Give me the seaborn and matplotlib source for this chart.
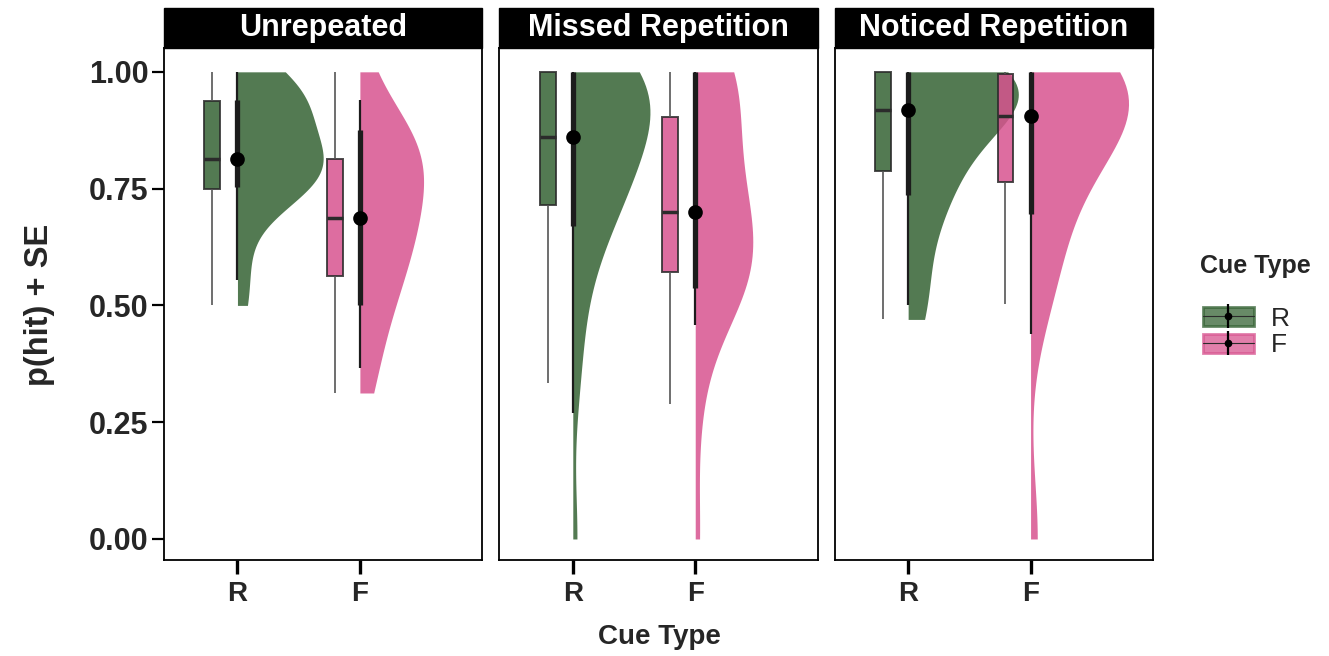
import numpy as np
import pandas as pd
import matplotlib.pyplot as plt
import matplotlib.transforms as mtransforms
from matplotlib.patches import Patch, Rectangle
from matplotlib.lines import Line2D
import seaborn as sns

# categories
conditions = ["Unrepeated", "Missed Repetition", "Noticed Repetition"]
cue_types = ["R", "F"]

# per-participant p(hit) (estimated from the plot)
unrepeated_R = [0.50, 0.59, 0.6875, 0.75, 0.75, 0.75, 0.75, 0.75, 0.8125, 0.8125, 0.8125, 0.8125, 0.8125,
                0.8125, 0.875, 0.875, 0.875, 0.9375, 0.9375, 0.9375, 0.9375, 0.9375, 1.0, 1.0, 1.0]
unrepeated_F = [0.3125, 0.375, 0.4375, 0.5, 0.5, 0.5625, 0.5625, 0.625, 0.625, 0.625, 0.6875, 0.6875, 0.6875,
                0.75, 0.75, 0.75, 0.8125, 0.8125, 0.8125, 0.8125, 0.875, 0.875, 0.875, 0.90, 1.0]
missed_R = [0.0, 0.3333, 0.45, 0.55, 0.6, 0.65, 0.6875, 0.7, 0.715, 0.75, 0.75, 0.78, 0.8, 0.8125, 0.83, 0.85,
            0.86, 0.875, 0.875, 0.9, 0.92, 0.9375, 0.95, 0.97, 1.0, 1.0, 1.0, 1.0, 1.0, 1.0, 1.0, 1.0, 1.0]
missed_F = [0.0, 0.289, 0.45, 0.5, 0.5, 0.53, 0.55, 0.57, 0.58, 0.6, 0.6, 0.62, 0.625, 0.65, 0.6875, 0.7125,
            0.75, 0.75, 0.78, 0.8, 0.8125, 0.875, 0.9125, 0.95, 1.0, 1.0, 1.0, 1.0, 1.0, 1.0]
noticed_R = [0.47, 0.55, 0.65, 0.72, 0.75, 0.8, 0.8125, 0.875, 0.9, 0.9125, 0.925, 0.9375, 0.95, 0.97,
             1.0, 1.0, 1.0, 1.0, 1.0, 1.0]
noticed_F = [0.0, 0.503, 0.56, 0.625, 0.69, 0.75, 0.81, 0.8125, 0.85, 0.875, 0.9, 0.9125, 0.9375, 0.95, 0.97,
             0.98, 1.0, 1.0, 1.0, 1.0, 1.0, 1.0]

# interval ends (66% thick, 95% thin) per condition, [R, F]
interval_66 = [[(0.754, 0.94), (0.50, 0.876)],
               [(0.669, 1.0), (0.538, 1.0)],
               [(0.737, 1.0), (0.696, 1.0)]]
interval_95 = [[(0.555, 1.0), (0.366, 0.94)],
               [(0.27, 1.0), (0.458, 1.0)],
               [(0.501, 1.0), (0.439, 1.0)]]

groups = {
    ("Unrepeated", "R"): unrepeated_R, ("Unrepeated", "F"): unrepeated_F,
    ("Missed Repetition", "R"): missed_R, ("Missed Repetition", "F"): missed_F,
    ("Noticed Repetition", "R"): noticed_R, ("Noticed Repetition", "F"): noticed_F,
}
rows = []
for (cond, cue), vals in groups.items():
    for v in vals:
        rows.append({"condition": cond, "cue": cue, "phit": v})
df = pd.DataFrame(rows)

# styling
colors = {"R": "#356334", "F": "#D7548F"}
alpha = 0.85
slab_halfwidth = [[0.70, 0.52], [0.63, 0.47], [0.90, 0.80]]
box_offset = -0.205

sns.set_style("white")
plt.rcParams["font.family"] = ["Liberation Sans", "DejaVu Sans"]

fig, axes = plt.subplots(1, 3, figsize=(13.29, 6.56), dpi=100, sharey=True)
fig.subplots_adjust(left=164 / 1329, right=1153 / 1329, bottom=96 / 656, top=608 / 656, wspace=17 / 318)

for k, (ax, cond) in enumerate(zip(axes, conditions)):
    sub = df[df.condition == cond]

    # boxplots, nudged left
    np0, nl0 = len(ax.patches), len(ax.lines)
    sns.boxplot(data=sub, x="cue", y="phit", order=cue_types, hue="cue", hue_order=cue_types,
                palette=colors, width=0.13, showfliers=False, showcaps=False, saturation=1,
                linecolor="#2b2b2b", linewidth=1.4, legend=False, ax=ax,
                boxprops=dict(alpha=alpha), medianprops=dict(linewidth=2.5),
                whiskerprops=dict(color="#555555", linewidth=1.2))
    shift = mtransforms.Affine2D().translate(box_offset, 0) + ax.transData
    for art in ax.patches[np0:] + ax.lines[nl0:]:
        art.set_transform(shift)

    # half violins, base placed on the category position
    for j, cue in enumerate(cue_types):
        nc0 = len(ax.collections)
        part = sub[sub.cue == cue].assign(side="right")
        sns.violinplot(data=part, x="cue", y="phit", order=cue_types, hue="side",
                       hue_order=["left", "right"], palette={"left": colors[cue], "right": colors[cue]},
                       split=True, dodge=False, inner=None, cut=0, density_norm="width",
                       width=slab_halfwidth[k][j], linewidth=0, saturation=1, legend=False, ax=ax)
        for c in ax.collections[nc0:]:
            xs = np.concatenate([p.vertices[:, 0] for p in c.get_paths()])
            x0, x1 = xs.min(), xs.max()
            tr = (mtransforms.Affine2D().translate(-x0, 0).scale(slab_halfwidth[k][j] / (x1 - x0), 1)
                  .translate(j, 0))
            c.set_transform(tr + ax.transData)
            c.set_alpha(alpha)

    # point + intervals
    for j, cue in enumerate(cue_types):
        lo, hi = interval_95[k][j]
        ax.vlines(j, lo, hi, color="#1c1c1c", lw=1.6, zorder=4)
        lo, hi = interval_66[k][j]
        ax.vlines(j, lo, hi, color="#1c1c1c", lw=3.8, zorder=4)
    sns.pointplot(data=sub, x="cue", y="phit", order=cue_types, estimator="median", errorbar=None,
                  color="black", linestyle="none", markersize=8.5, zorder=5, ax=ax)

    ax.set_xlim(-0.6, 2.0)
    ax.set_ylim(-0.045, 1.051)
    ax.set_yticks([0, 0.25, 0.5, 0.75, 1.0])
    ax.set_yticklabels(["0.00", "0.25", "0.50", "0.75", "1.00"])
    ax.set_xlabel("")
    ax.set_ylabel("")
    for s in ax.spines.values():
        s.set_visible(True)
        s.set_color("black")
        s.set_linewidth(1.3)
    ax.tick_params(axis="x", length=10, width=2.4, labelsize=20, color="black", pad=5, bottom=True)
    ax.tick_params(axis="y", length=9, width=1.6, labelsize=22, color="black", pad=2, left=(k == 0))
    for lbl in ax.get_xticklabels() + ax.get_yticklabels():
        lbl.set_fontweight("bold")

    # facet strip
    ax.add_patch(Rectangle((0, 1), 1, 40 / 512, transform=ax.transAxes, facecolor="black",
                           edgecolor="black", clip_on=False))
    ax.text(0.5, 1 + 20 / 512, cond, transform=ax.transAxes, ha="center", va="center",
            color="white", fontsize=22, fontweight="bold")

fig.text(40 / 1329, 1 - 305 / 656, "p(hit) + SE", rotation=90, ha="center", va="center",
         fontsize=23.5, fontweight="bold")
fig.text(659 / 1329, 1 - 637 / 656, "Cue Type", ha="center", va="center", fontsize=20, fontweight="bold")

# legend
fig.text(1200 / 1329, 1 - 266 / 656, "Cue Type", ha="left", va="center", fontsize=18, fontweight="bold")
handles = []
for cue in cue_types:
    handles.append((Patch(facecolor=colors[cue], edgecolor=colors[cue], alpha=0.75, lw=2),
                    Line2D([0], [0], color="#2b2b2b", lw=0.8),
                    Line2D([0], [0], marker="|", ms=17, mew=1.6, color="black", lw=0),
                    Line2D([0], [0], marker="o", ms=4.5, color="black", lw=0)))
leg = fig.legend(handles, cue_types, loc="upper left",
                 bbox_to_anchor=(1179 / 1329, 1 - 283 / 656), frameon=False, fontsize=19,
                 handlelength=1.95, handleheight=0.75, handletextpad=0.65, labelspacing=0.1)

fig.savefig("out.png", dpi=100)
